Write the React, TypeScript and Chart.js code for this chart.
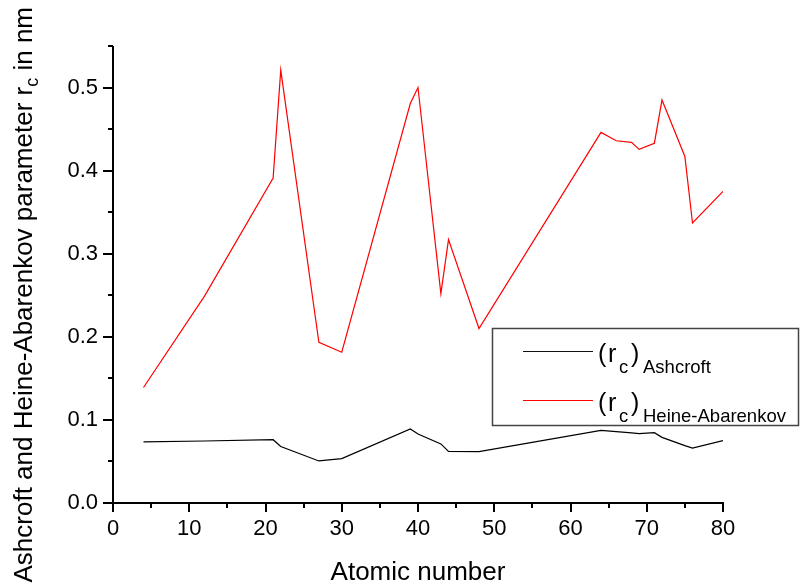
import React, { useEffect, useRef } from "react";
import { Chart, registerables } from "chart.js";

Chart.register(...registerables);

// Atomic numbers of the elements plotted
const atomicNumbers = [4, 12, 21, 22, 27, 30, 39, 40, 43, 44, 48, 64, 66, 68, 69, 71, 72, 75, 76, 80];
// (r_c) Heine-Abarenkov, nm
const heineAbarenkov = [0.139, 0.249, 0.391, 0.521, 0.1935, 0.1815, 0.481, 0.5, 0.252, 0.317, 0.21, 0.446, 0.436, 0.434, 0.4256, 0.433, 0.485, 0.417, 0.337, 0.375];
// (r_c) Ashcroft, nm
const ashcroft = [0.0735, 0.0746, 0.0762, 0.068, 0.0506, 0.0534, 0.089, 0.083, 0.0711, 0.0622, 0.0618, 0.0875, 0.0858, 0.0844, 0.0834, 0.0846, 0.079, 0.069, 0.066, 0.075];

const xTickLabels = ["0", "10", "20", "30", "40", "50", "60", "70", "80"];
const yTickLabels = ["0.0", "0.1", "0.2", "0.3", "0.4", "0.5"];

const FONT = 'Arial, "Liberation Sans", sans-serif';

const decorPlugin = {
  id: "decor",
  afterDraw(chart: any) {
    const ctx = chart.ctx as CanvasRenderingContext2D;
    const { left, right, top, bottom } = chart.chartArea;
    const xs = chart.scales.x;
    const ys = chart.scales.y;
    ctx.save();
    ctx.strokeStyle = "#000";
    ctx.lineWidth = 2;
    // axes
    ctx.beginPath();
    ctx.moveTo(left, top);
    ctx.lineTo(left, bottom + 1);
    ctx.moveTo(left - 1, bottom);
    ctx.lineTo(right + 1, bottom);
    ctx.stroke();
    // x ticks
    ctx.beginPath();
    for (let v = 0; v <= 80; v += 5) {
      const px = Math.round(xs.getPixelForValue(v));
      const len = v % 10 === 0 ? 9 : 5;
      ctx.moveTo(px, bottom);
      ctx.lineTo(px, bottom + len);
    }
    // y ticks
    for (let i = 0; i <= 11; i++) {
      const v = i * 0.05;
      const py = Math.round(ys.getPixelForValue(v));
      const len = i % 2 === 0 ? 10 : 5;
      ctx.moveTo(left, py);
      ctx.lineTo(left - len, py);
    }
    ctx.stroke();

    ctx.fillStyle = "#000";
    // x title
    ctx.font = `26px ${FONT}`;
    ctx.textAlign = "center";
    ctx.textBaseline = "alphabetic";
    ctx.fillText("Atomic number", (left + right) / 2, 580);

    // y title (rotated) with subscript
    const p1 = "Ashcroft and Heine-Abarenkov parameter r";
    const p2 = "c";
    const p3 = " in nm";
    ctx.font = `26px ${FONT}`;
    const w1 = ctx.measureText(p1).width;
    const w3 = ctx.measureText(p3).width;
    ctx.font = `18px ${FONT}`;
    const w2 = ctx.measureText(p2).width;
    const total = w1 + w2 + w3;
    const yStart = 7 + total;
    ctx.save();
    ctx.translate(32, yStart);
    ctx.rotate(-Math.PI / 2);
    ctx.textAlign = "left";
    ctx.font = `26px ${FONT}`;
    ctx.fillText(p1, 0, 0);
    ctx.font = `18px ${FONT}`;
    ctx.fillText(p2, w1, 6);
    ctx.font = `26px ${FONT}`;
    ctx.fillText(p3, w1 + w2, 0);
    ctx.restore();

    // legend
    ctx.lineWidth = 1.5;
    ctx.strokeStyle = "#444";
    ctx.strokeRect(492.5, 328.5, 306, 97);
    const rows = [
      { label: "Ashcroft", color: "#111", lineY: 351, base: 362 },
      { label: "Heine-Abarenkov", color: "#f00", lineY: 400, base: 411 },
    ];
    ctx.textAlign = "left";
    for (const r of rows) {
      ctx.strokeStyle = r.color;
      ctx.lineWidth = 1;
      ctx.beginPath();
      ctx.moveTo(523, r.lineY + 0.5);
      ctx.lineTo(593, r.lineY + 0.5);
      ctx.stroke();
      const x0 = 598;
      ctx.font = `25px ${FONT}`;
      ctx.fillText("(", x0, r.base);
      ctx.fillText("r", x0 + 10, r.base);
      ctx.font = `18.5px ${FONT}`;
      ctx.fillText("c", x0 + 21, r.base + 11);
      ctx.font = `25px ${FONT}`;
      ctx.fillText(")", x0 + 33, r.base);
      ctx.font = `18.5px ${FONT}`;
      ctx.fillText(r.label, x0 + 45, r.base + 11);
    }
    ctx.restore();
  },
};

export default function App() {
  const ref = useRef<HTMLCanvasElement | null>(null);
  useEffect(() => {
    if (!ref.current) return;
    const chart = new Chart(ref.current, {
      type: "line",
      data: {
        datasets: [
          {
            label: "(rc)Ashcroft",
            data: atomicNumbers.map((z, i) => ({ x: z, y: ashcroft[i] })),
            borderColor: "#000",
            borderWidth: 1.2,
            pointRadius: 0,
            tension: 0,
            fill: false,
          },
          {
            label: "(rc)Heine-Abarenkov",
            data: atomicNumbers.map((z, i) => ({ x: z, y: heineAbarenkov[i] })),
            borderColor: "#f00",
            borderWidth: 1.2,
            pointRadius: 0,
            tension: 0,
            fill: false,
          },
        ],
      },
      options: {
        responsive: false,
        animation: false,
        events: [],
        layout: { padding: { top: 46, right: 78, left: 0, bottom: 0 } },
        plugins: { legend: { display: false }, tooltip: { enabled: false }, title: { display: false } },
        scales: {
          x: {
            type: "linear",
            min: 0,
            max: 80,
            afterFit: (s: any) => {
              s.height = 82;
            },
            border: { display: false },
            grid: { display: true, drawOnChartArea: false, drawTicks: true, tickLength: 9, color: "rgba(0,0,0,0)" },
            ticks: {
              stepSize: 5,
              autoSkip: false,
              maxRotation: 0,
              padding: 4,
              color: "#000",
              font: { family: FONT, size: 22 },
              callback: (v: any) => {
                const n = Number(v);
                if (Math.round(n) % 10 !== 0) return "";
                return xTickLabels[Math.round(n) / 10];
              },
            },
          },
          y: {
            type: "linear",
            min: 0,
            max: 0.55,
            afterFit: (s: any) => {
              s.width = 113;
            },
            border: { display: false },
            grid: { display: true, drawOnChartArea: false, drawTicks: true, tickLength: 9, color: "rgba(0,0,0,0)" },
            ticks: {
              stepSize: 0.05,
              autoSkip: false,
              padding: 6,
              color: "#000",
              font: { family: FONT, size: 22 },
              callback: (v: any) => {
                const k = Math.round(Number(v) * 100);
                if (k % 10 !== 0) return "";
                return yTickLabels[k / 10];
              },
            },
          },
        },
      },
      plugins: [decorPlugin],
    });
    return () => chart.destroy();
  }, []);
  return (
    <canvas
      ref={ref}
      width={801}
      height={585}
      style={{ position: "absolute", left: 0, top: 0, width: 801, height: 585, background: "#fff" }}
    />
  );
}
